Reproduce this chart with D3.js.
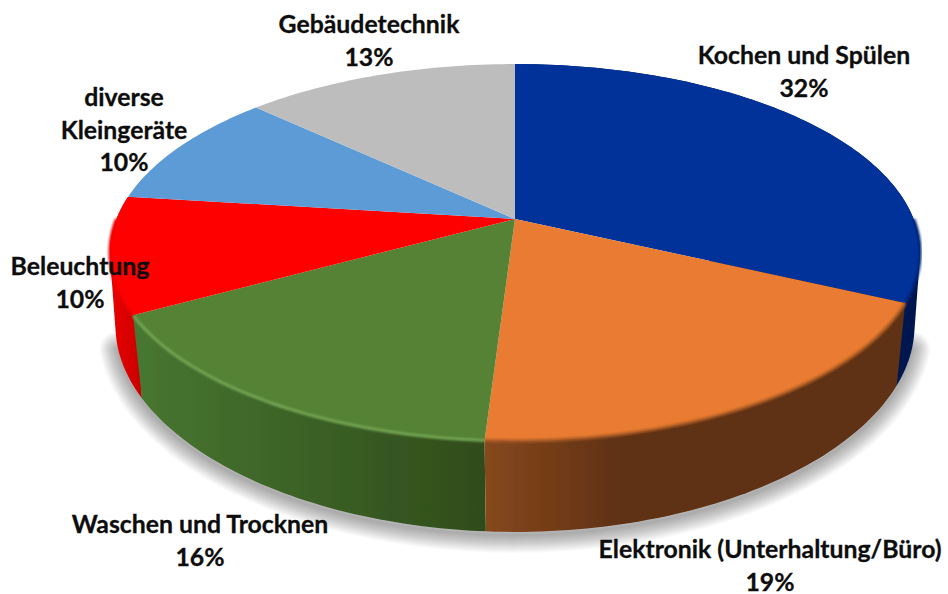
<!DOCTYPE html>
<html>
<head>
<meta charset="utf-8">
<script src="https://cdn.jsdelivr.net/npm/d3@7"></script>
<style>
    html, body { margin: 0; padding: 0; background: #fff; }
    svg { display: block; }
    text { font-family: Lato, "Open Sans", sans-serif; font-weight: 700; font-size: 24.8px; fill: #0d0d0d; stroke: #0d0d0d; stroke-width: 0.3px; }
</style>
</head>
<body>
<div id="chart"></div>
<script>
/* 3D pie of household electricity use */

const categories = ["Kochen und Spülen", "Elektronik (Unterhaltung/Büro)", "Waschen und Trocknen", "Beleuchtung", "diverse Kleingeräte", "Gebäudetechnik"];
const values = [32, 19, 16, 10, 10, 13];

// label lines as they break in the picture
const labelLines = [["Kochen und Spülen"], ["Elektronik (Unterhaltung/Büro)"], ["Waschen und Trocknen"], ["Beleuchtung"], ["diverse", "Kleingeräte"], ["Gebäudetechnik"]];

// colours per slice
const topColors = ["#003399", "#e97b30", "#548235", "#ff0000", "#5b9bd5", "#bdbdbd"];
const wallLeft = ["#001a5c", "#86481d", "#477530", "#e60000", "#5b9bd5", "#bdbdbd"];
const wallRight = ["#00174f", "#5e3012", "#2f4c1b", "#c80000", "#5b9bd5", "#bdbdbd"];
const rimColors = ["#00277a", "#a85a26", "#74a553", "#f00000", "none", "none"];

// first-line centre x and baseline y of each label
const labelX = [804, 770, 200, 80, 124, 369];
const labelY = [64, 558, 533, 275, 106, 33];
const lineStep = 32.5;

const width = 948, height = 594;

// perspective of the disc: top face and bottom face
const cx = 515;
const topFace = { y: 219, rx: 398.6, ry: 182.5, kx: 0.1777 };
const bottomFace = { y: 296, rx: 395, ry: 194, kx: 0.15 };
const persp = 0.1777;

function project(face, angle) {
    const u = Math.sin(angle), v = -Math.cos(angle);
    return [cx + face.rx * u / (1 - face.kx * v), face.y + face.ry * v / (1 - persp * v)];
}

function arcPoints(face, a0, a1) {
    const n = Math.max(2, Math.ceil((a1 - a0) / 0.02));
    return d3.range(n + 1).map(i => project(face, a0 + (a1 - a0) * i / n));
}

const line = d3.line();

const arcs = d3.pie().sort(null).value(d => d)(values);

let svg = d3.select("#chart")
    .append("svg")
    .attr("width", width)
    .attr("height", height)
    .attr("viewBox", [0, 0, width, height]);

let defs = svg.append("defs");

defs.append("filter").attr("id", "soft")
    .append("feGaussianBlur").attr("stdDeviation", 0.6);

defs.append("filter").attr("id", "rim")
    .attr("x", "-10%").attr("y", "-20%").attr("width", "120%").attr("height", "140%")
    .append("feGaussianBlur").attr("stdDeviation", 1.2);

// wall gradients follow the slice's horizontal span
arcs.forEach((d, i) => {
    const xs = arcPoints(bottomFace, d.startAngle, d.endAngle).map(p => p[0]);
    const g = defs.append("linearGradient")
        .attr("id", "wall" + i)
        .attr("gradientUnits", "userSpaceOnUse")
        .attr("x1", i === 1 ? 485 : d3.min(xs)).attr("x2", i === 1 ? 625 : d3.max(xs))
        .attr("y1", 0).attr("y2", 0);
    g.append("stop").attr("offset", 0).attr("stop-color", wallLeft[i]);
    g.append("stop").attr("offset", 1).attr("stop-color", wallRight[i]);
});

// soft shadow along the front of the disc, stacked strokes fading outwards
const shadowWidths = d3.range(2, 38, 2);
svg.append("g")
    .attr("transform", "translate(0,3)")
    .selectAll("path")
    .data(shadowWidths)
    .join("path")
    .attr("d", line(arcPoints(bottomFace, Math.PI * 0.58, Math.PI * 1.42)))
    .attr("fill", "none")
    .attr("stroke", "#000")
    .attr("stroke-opacity", 0.02)
    .attr("stroke-linecap", "round")
    .attr("stroke-width", d => d);

let pie = svg.append("g").attr("filter", "url(#soft)");

// side walls, back slices first so the front ones overlap them
// hull of both arcs gives the straight silhouette at the disc's sides
const wallOrder = [0, 3, 2, 1];
pie.selectAll(".wall")
    .data(wallOrder.map(i => ({ arc: arcs[i], i })))
    .join("path")
    .attr("class", "wall")
    .attr("fill", d => `url(#wall${d.i})`)
    .attr("d", d => {
        const a = arcPoints(topFace, d.arc.startAngle, d.arc.endAngle);
        const b = arcPoints(bottomFace, d.arc.startAngle, d.arc.endAngle);
        return line(d3.polygonHull(a.concat(b))) + "Z";
    });

// top faces
pie.selectAll(".slice")
    .data(arcs)
    .join("path")
    .attr("class", "slice")
    .attr("fill", (d, i) => topColors[i])
    .attr("d", d => line([[cx, topFace.y]].concat(arcPoints(topFace, d.startAngle, d.endAngle))) + "Z");

// soft lit edge between top face and wall, front of the disc only
const rimStart = Math.PI / 2, rimEnd = 3 * Math.PI / 2;
pie.selectAll(".rim")
    .data(arcs.filter(d => d.startAngle < rimEnd))
    .join("path")
    .attr("class", "rim")
    .attr("fill", "none")
    .attr("stroke", d => rimColors[d.index])
    .attr("stroke-width", 3)
    .attr("filter", "url(#rim)")
    .attr("d", d => line(arcPoints(topFace, Math.max(d.startAngle, rimStart), Math.min(d.endAngle, rimEnd))));

// labels
let label = svg.selectAll(".label")
    .data(arcs)
    .join("text")
    .attr("class", "label")
    .attr("text-anchor", "middle");

label.each(function (d, i) {
    const lines = labelLines[i].concat([d.value + "%"]);
    d3.select(this).selectAll("tspan")
        .data(lines)
        .join("tspan")
        .attr("x", labelX[i])
        .attr("y", (t, j) => labelY[i] + j * lineStep)
        .text(t => t);
});
</script>
</body>
</html>
